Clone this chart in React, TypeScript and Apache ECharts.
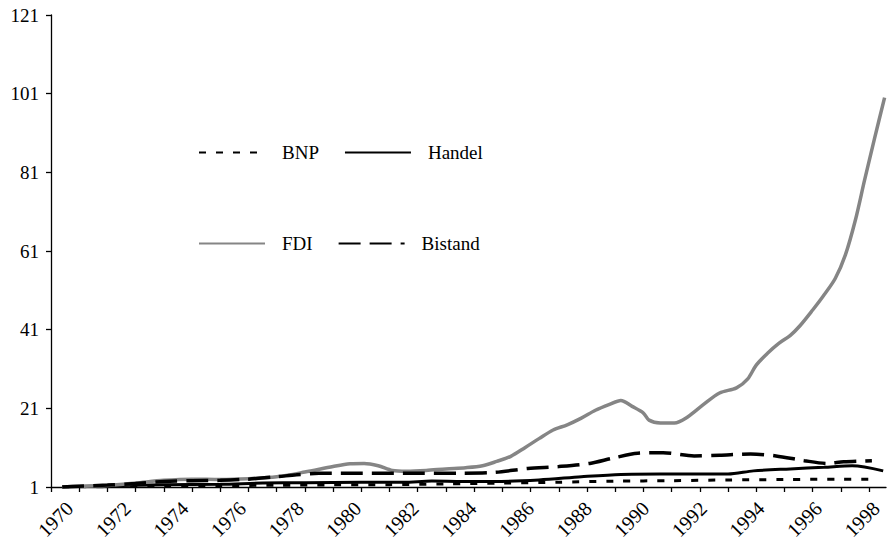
import React, { useEffect, useRef } from "react";
import * as echarts from "echarts";

const fdiYears = [1970.4, 1971, 1972, 1973, 1974, 1975, 1976, 1977, 1978, 1979, 1980, 1980.6, 1981.1, 1981.6, 1982.1, 1982.6, 1983.3, 1984, 1984.7, 1985.3, 1985.8, 1986.3, 1986.8, 1987.3, 1987.8, 1988.3, 1988.8, 1989.3, 1989.8, 1990.2, 1990.6, 1991.0, 1991.2, 1991.6, 1992.1, 1992.5, 1993.1, 1993.7, 1994.3, 1994.7, 1995.0, 1995.4, 1995.8, 1996.2, 1996.55, 1997.0, 1997.37, 1997.8, 1998.16, 1998.52, 1998.84, 1999.19, 1999.55];
const fdiValues = [1.0, 1.2, 1.4, 2.0, 2.7, 3.0, 2.9, 3.1, 3.6, 4.8, 6.2, 6.9, 7.0, 6.4, 5.2, 5.0, 5.2, 5.6, 5.9, 6.4, 7.5, 8.8, 11.0, 13.3, 15.5, 16.8, 18.5, 20.5, 22.0, 23.0, 21.5, 19.8, 18.0, 17.3, 17.3, 18.5, 21.8, 24.9, 26.2, 28.5, 32, 35, 37.5, 39.5, 42, 46, 49.5, 54, 60, 69, 79, 89.5, 100];

const bistandYears = [1970.4, 1971, 1972, 1973, 1974, 1975, 1976, 1977, 1978, 1978.7, 1979.5, 1981, 1982.5, 1984.5, 1985.7, 1986.9, 1988.0, 1989.1, 1989.9, 1990.8, 1991.7, 1992.8, 1993.7, 1994.8, 1995.7, 1996.7, 1997.5, 1998.1, 1999.1];
const bistandValues = [1.0, 1.2, 1.5, 1.9, 2.4, 2.6, 2.7, 3.0, 3.6, 4.1, 4.5, 4.5, 4.5, 4.5, 4.7, 5.7, 6.2, 7.0, 8.3, 9.6, 9.7, 8.9, 9.1, 9.4, 8.9, 7.7, 7.0, 7.4, 7.7];

const handelYears = [1970.4, 1972, 1974, 1976, 1977.5, 1979, 1981, 1982.5, 1983.5, 1984.6, 1985.7, 1987.3, 1988.8, 1990.2, 1991.6, 1994.0, 1994.9, 1996.2, 1997.4, 1998.4, 1999.5];
const handelValues = [1.0, 1.3, 1.6, 1.7, 2.0, 2.1, 2.2, 2.2, 2.5, 2.4, 2.4, 2.8, 3.6, 4.2, 4.3, 4.3, 5.1, 5.6, 6.0, 6.4, 5.1];

const bnpYears = [1970.4, 1972, 1974, 1976, 1978, 1980, 1982, 1984, 1986, 1988, 1990, 1992, 1994, 1996, 1998, 1999.3];
const bnpValues = [1.0, 1.1, 1.25, 1.35, 1.45, 1.55, 1.6, 1.8, 2.0, 2.2, 2.5, 2.6, 2.8, 2.9, 3.0, 3.0];

const yTicks = [1, 21, 41, 61, 81, 101, 121];
const yearTicks = Array.from({ length: 30 }, (_, i) => 1970 + i);
const yearLabels = Array.from({ length: 15 }, (_, i) => 1970 + 2 * i);

const FONT = "Liberation Serif";
// label anchors sit slightly right of the category centres, as in the reference
const LABEL_START = 1970.66;
const LABEL_STEP = 2.042;

const pairs = (xs: number[], ys: number[]) => xs.map((x, i) => [x, ys[i]]);

export default function App() {
  const ref = useRef<HTMLDivElement>(null);
  useEffect(() => {
    if (!ref.current) return;
    const chart = echarts.init(ref.current, undefined, { renderer: "svg" });
    const legendText = {
      fontFamily: FONT,
      fontSize: 19,
      color: "#000",
      width: 52,
      padding: [0, 0, 0, 12],
    };
    const legendBase = {
      left: 193,
      itemWidth: 66,
      itemHeight: 14,
      itemGap: 25,
      itemStyle: { opacity: 0 },
      textStyle: legendText,
    };
    chart.setOption({
      animation: false,
      backgroundColor: "#fff",
      grid: { left: 51, top: 15, right: 4, bottom: 58, containLabel: false },
      legend: [
        { ...legendBase, data: ["BNP", "Handel"], top: 138 },
        { ...legendBase, data: ["FDI", "Bistand"], top: 229 },
      ],
      xAxis: {
        type: "value",
        min: 1970,
        max: 1999.6,
        splitLine: { show: false },
        axisLine: { show: true, onZero: false, lineStyle: { color: "#000", width: 1.3 } },
        axisTick: {
          show: true,
          length: 5,
          customValues: yearTicks,
          lineStyle: { color: "#000", width: 1.3 },
        },
        axisLabel: {
          customValues: yearLabels.map((_, i) => LABEL_START + LABEL_STEP * i),
          formatter: (v: number) =>
            String(yearLabels[Math.round((v - LABEL_START) / LABEL_STEP)]),
          rotate: 45,
          margin: 18,
          fontFamily: FONT,
          fontSize: 20,
          color: "#000",
        },
      },
      yAxis: {
        type: "value",
        min: 1,
        max: 121,
        splitLine: { show: false },
        axisLine: { show: true, lineStyle: { color: "#000", width: 1.3 } },
        axisTick: {
          show: true,
          length: 5,
          customValues: yTicks,
          lineStyle: { color: "#000", width: 1.3 },
        },
        axisLabel: {
          customValues: yTicks,
          margin: 12,
          fontFamily: FONT,
          fontSize: 19,
          color: "#000",
        },
      },
      series: [
        {
          name: "BNP",
          type: "line",
          data: pairs(bnpYears, bnpValues),
          symbol: "none",
          smooth: 0.3,
          lineStyle: { color: "#000", width: 3, type: [7, 10] },
          itemStyle: { color: "#000" },
        },
        {
          name: "Handel",
          type: "line",
          data: pairs(handelYears, handelValues),
          symbol: "none",
          smooth: 0.3,
          lineStyle: { color: "#000", width: 3, type: "solid" },
          itemStyle: { color: "#000" },
        },
        {
          name: "FDI",
          type: "line",
          data: pairs(fdiYears, fdiValues),
          symbol: "none",
          smooth: 0.3,
          lineStyle: { color: "#858585", width: 3.5, type: "solid" },
          itemStyle: { color: "#858585" },
        },
        {
          name: "Bistand",
          type: "line",
          data: pairs(bistandYears, bistandValues),
          symbol: "none",
          smooth: 0.3,
          lineStyle: { color: "#000", width: 3.5, type: [22, 9] },
          itemStyle: { color: "#000" },
        },
      ],
    });
    return () => chart.dispose();
  }, []);
  return (
    <div
      ref={ref}
      style={{ position: "fixed", left: 0, top: 0, width: 890, height: 545 }}
    />
  );
}
